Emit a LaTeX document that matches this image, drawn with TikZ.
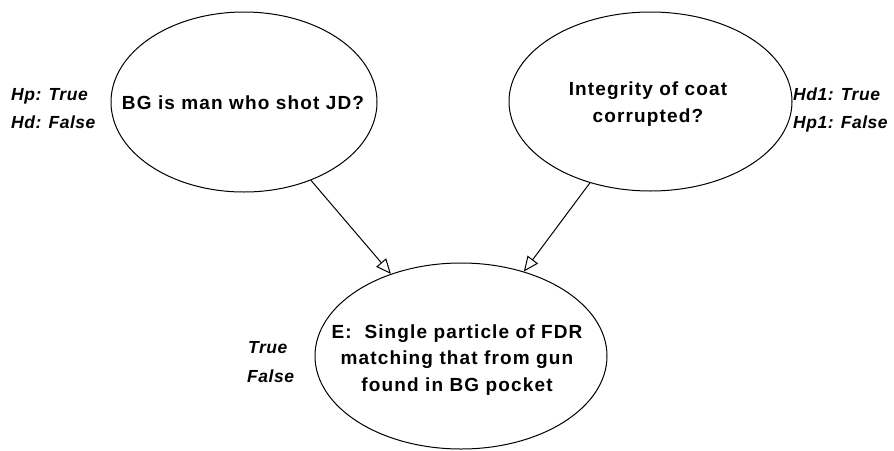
\documentclass[tikz,border=0pt]{standalone}
\usepackage{fontspec}
\setmainfont{Liberation Sans}
\newfontfamily\qfont[LetterSpace=6]{Liberation Sans}
\newfontfamily\sfont[LetterSpace=3]{Liberation Sans}
\usetikzlibrary{arrows.meta,shapes.geometric}

\begin{document}
\begin{tikzpicture}[x=1pt,y=-1pt]

\tikzstyle{chance} = [draw, ellipse, line width=1pt, inner sep=0pt]
\tikzstyle{qtext} = [align=center, anchor=center, font=\qfont\bfseries\fontsize{19}{26.5}\selectfont]
\tikzstyle{stlabel} = [anchor=base west, inner sep=0pt, font=\sfont\bfseries\itshape\fontsize{17.5}{20}\selectfont]
\tikzstyle{link} = [line width=1pt, -{Triangle[open,length=15pt,width=13pt]}]

\useasboundingbox (0,0) rectangle (894,450);

% the three variables
\node[chance, minimum width=266pt, minimum height=180pt, at={(244,102)}] (bg) {};
\node[chance, minimum width=283pt, minimum height=179pt, at={(650.5,101.5)}] (coat) {};
\node[chance, minimum width=292pt, minimum height=186pt, at={(461,356)}] (fdr) {};

\node[qtext, at={(243,103)}] (bgq) {BG is man who shot JD?};
\node[qtext, at={(648,104)}] (coatq) {Integrity of coat\\corrupted?};
\node[qtext, at={(457,360)}] (fdrq) {E:\ \ Single particle of FDR\\matching that from gun\\found in BG pocket};

% states
\node[stlabel, at={(11,100.5)}] (hp) {Hp: True};
\node[stlabel, at={(11,128)}] (hd) {Hd: False};
\node[stlabel, at={(793,100)}] (hdone) {Hd1: True};
\node[stlabel, at={(793,128)}] (hpone) {Hp1: False};
\node[stlabel, at={(248,353)}] (etrue) {True};
\node[stlabel, at={(247,382)}] (efalse) {False};

\draw[link] (bg) -- (fdr);
\draw[link] (coat) -- (fdr);

\end{tikzpicture}
\end{document}
